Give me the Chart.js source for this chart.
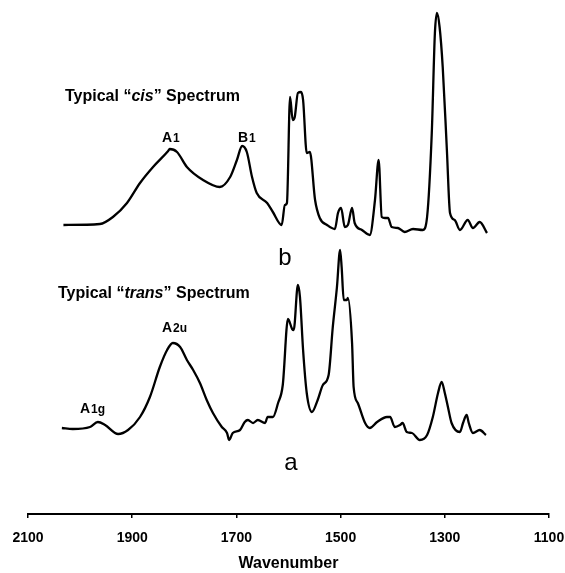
<!DOCTYPE html>
<html>
<head>
<meta charset="utf-8">
<script src="https://cdn.jsdelivr.net/npm/chart.js@4.4.1/dist/chart.umd.min.js"></script>
<style>
  html, body { margin: 0; padding: 0; background: #fff; }
  #wrap { width: 565px; height: 573px; }
</style>
</head>
<body>
<div id="wrap"><canvas id="spectraChart" width="565" height="573"></canvas></div>
<script>
// wavenumber (cm-1) and absorbance (arbitrary units, stacked)
var cisWavenumber = [2032,1962,1937,1910,1885,1860,1831,1828,1814,1795,1764,1732,1712,1699,1689,1680,1670,1661,1641,1630,1613,1607,1603,1597,1592,1588,1582,1576,1572,1565,1559,1549,1540,1526,1511,1505,1499,1492,1486,1478,1473,1459,1444,1434,1427,1421,1415,1409,1402,1390,1377,1361,1342,1334,1325,1319,1315,1310,1304,1296,1290,1281,1271,1256,1246,1233,1219];
var cisAbsorbance = [289,290,297,311,331,347,363,365,362,347,334,327,337,354,368,362,337,321,311,302,289,309,311,417,394,397,421,422,414,361,362,314,296,289,285,301,306,287,289,306,291,284,279,314,354,297,296,296,287,286,282,285,284,297,381,481,501,487,447,364,301,294,284,294,286,292,281];

var transWavenumber = [2035,2014,1981,1966,1952,1927,1908,1885,1866,1847,1833,1822,1808,1795,1783,1770,1757,1745,1728,1718,1714,1707,1693,1684,1678,1668,1659,1645,1640,1630,1620,1611,1601,1593,1590,1582,1578,1572,1565,1555,1544,1534,1523,1515,1507,1501,1498,1494,1488,1486,1478,1475,1467,1453,1444,1430,1411,1405,1396,1386,1381,1373,1363,1348,1334,1323,1313,1306,1300,1294,1287,1271,1265,1258,1254,1246,1233,1221];
var transAbsorbance = [86,85,87,92,89,80,84,97,117,147,164,171,167,154,144,131,114,101,87,81,74,81,84,92,94,91,94,91,97,97,111,129,195,185,184,229,217,164,121,102,114,129,139,187,227,264,247,214,214,216,171,127,111,91,86,92,97,97,87,89,91,82,81,74,79,97,121,132,121,107,91,82,91,99,91,81,84,79];

var xTicks = [2100, 1900, 1700, 1500, 1300, 1100];

var fontFamily = '"Liberation Sans", Arial, Helvetica, sans-serif';

function toPoints(xs, ys) {
    return xs.map((x, i) => ({ x: x, y: ys[i] }));
}

// draws a run of text pieces, each with its own font, left to right
function drawPieces(ctx, pieces, x, y) {
    pieces.forEach(p => {
        ctx.font = p.font;
        ctx.fillText(p.text, x, y + (p.dy || 0));
        x += ctx.measureText(p.text).width + (p.gap || 0);
    });
}

const labelsPlugin = {
    id: 'spectrumLabels',
    afterDraw(chart) {
        const ctx = chart.ctx;
        const b16 = 'bold 16px ' + fontFamily;
        const bi16 = 'italic bold 16px ' + fontFamily;
        const b14 = 'bold 14px ' + fontFamily;
        const b12 = 'bold 12px ' + fontFamily;
        ctx.save();
        ctx.fillStyle = '#000';
        ctx.textBaseline = 'alphabetic';
        ctx.textAlign = 'left';

        drawPieces(ctx, [
            { text: 'Typical \u201c', font: b16 },
            { text: 'cis', font: bi16 },
            { text: '\u201d Spectrum', font: b16 }
        ], 65, 101);
        drawPieces(ctx, [
            { text: 'Typical \u201c', font: b16 },
            { text: 'trans', font: bi16 },
            { text: '\u201d Spectrum', font: b16 }
        ], 58, 298);

        // band assignments
        drawPieces(ctx, [{ text: 'A', font: b14, gap: 1 }, { text: '1', font: b12 }], 162, 142);
        drawPieces(ctx, [{ text: 'B', font: b14, gap: 1 }, { text: '1', font: b12 }], 238, 142);
        drawPieces(ctx, [{ text: 'A', font: b14, gap: 1 }, { text: '2u', font: b12 }], 162, 332);
        drawPieces(ctx, [{ text: 'A', font: b14, gap: 1 }, { text: '1g', font: b12 }], 80, 413);

        ctx.font = '24px ' + fontFamily;
        ctx.textAlign = 'center';
        ctx.fillText('b', 285, 265);
        ctx.fillText('a', 291, 470);
        ctx.restore();
    }
};

const ctx = document.getElementById('spectraChart').getContext('2d');
window.spectraChart = new Chart(ctx, {
    type: 'line',
    data: {
        datasets: [
            {
                label: 'cis',
                data: toPoints(cisWavenumber, cisAbsorbance),
                borderColor: '#000',
                borderWidth: 2.3,
                pointRadius: 0,
                cubicInterpolationMode: 'monotone',
                fill: false
            },
            {
                label: 'trans',
                data: toPoints(transWavenumber, transAbsorbance),
                borderColor: '#000',
                borderWidth: 2.3,
                pointRadius: 0,
                cubicInterpolationMode: 'monotone',
                fill: false
            }
        ]
    },
    options: {
        responsive: false,
        animation: false,
        devicePixelRatio: 1,
        layout: {
            autoPadding: false,
            padding: { left: 28, right: 16, top: 0, bottom: 0 }
        },
        plugins: {
            legend: { display: false },
            tooltip: { enabled: false },
            title: { display: false }
        },
        scales: {
            x: {
                type: 'linear',
                reverse: true,
                min: 1100,
                max: 2100,
                afterBuildTicks: (scale) => {
                    scale.ticks = xTicks.map(v => ({ value: v }));
                },
                afterFit: (scale) => {
                    // fixed axis band, and no extra room for the end labels
                    scale.height = 59;
                    scale.paddingLeft = 0;
                    scale.paddingRight = 0;
                },
                ticks: {
                    color: '#000',
                    padding: 12,
                    maxRotation: 0,
                    autoSkip: false,
                    callback: (value) => String(value),
                    font: { family: fontFamily, size: 14, weight: 'bold' }
                },
                grid: {
                    display: true,
                    drawOnChartArea: false,
                    drawTicks: true,
                    tickLength: 4,
                    color: '#000',
                    lineWidth: 1.5
                },
                border: { display: true, color: '#000', width: 2 },
                title: {
                    display: true,
                    text: 'Wavenumber',
                    color: '#000',
                    font: { family: fontFamily, size: 16, weight: 'bold' },
                    padding: { top: 0, bottom: 0 }
                }
            },
            y: {
                display: false,
                min: 0,
                max: 514
            }
        }
    },
    plugins: [labelsPlugin]
});
</script>
</body>
</html>
